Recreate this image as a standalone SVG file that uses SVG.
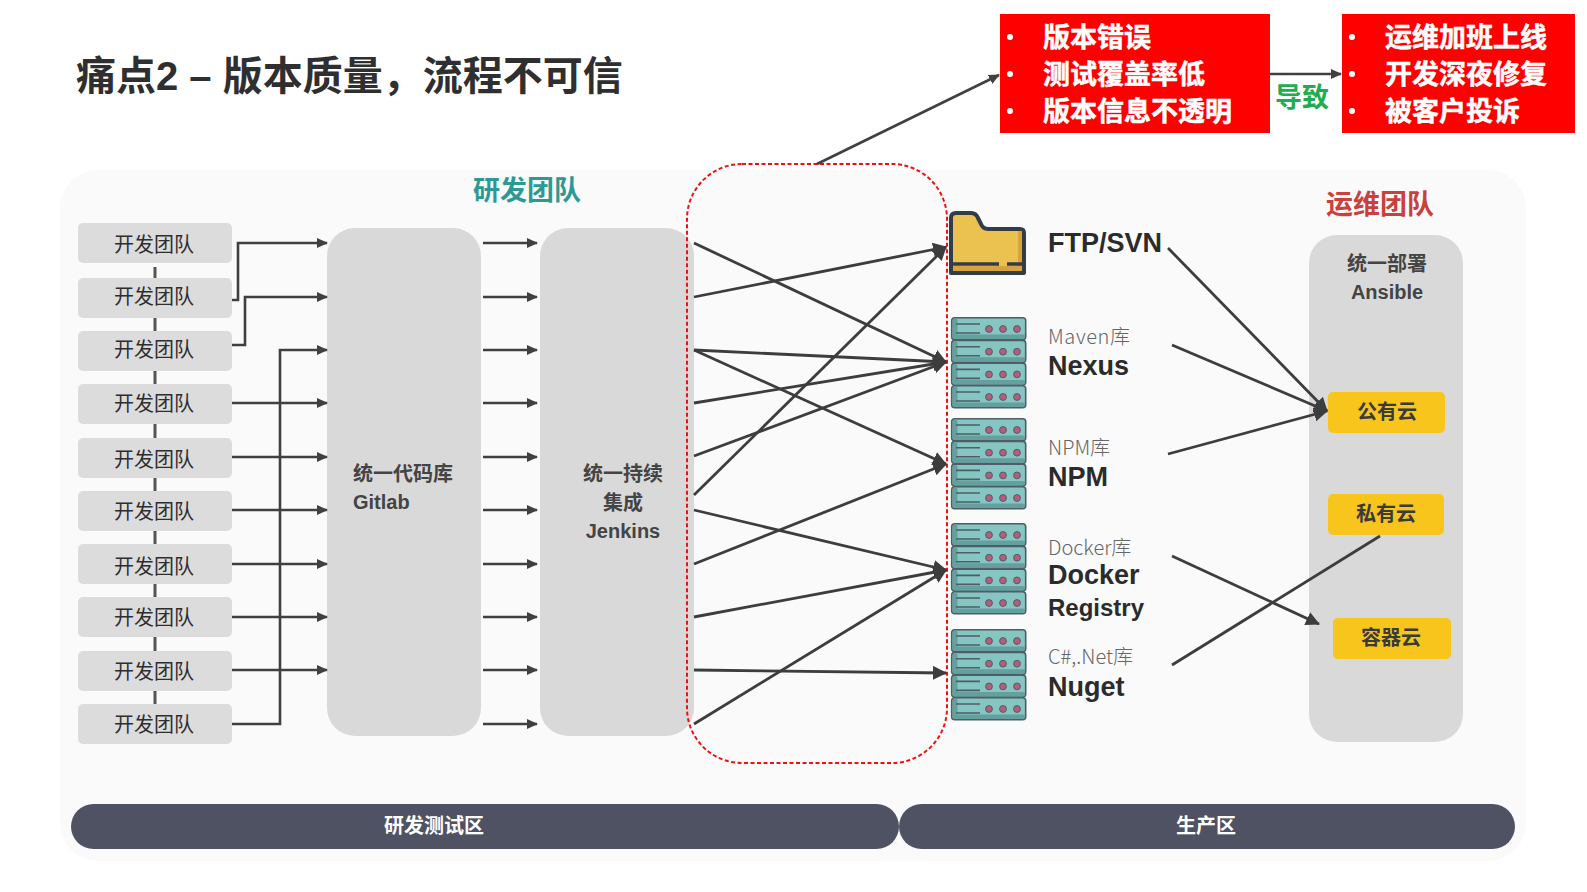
<svg xmlns="http://www.w3.org/2000/svg" width="1587" height="892" viewBox="0 0 1587 892">
<style>
text{font-family:"Noto Sans CJK SC","Liberation Sans",sans-serif;fill:#333}
.latin{font-family:"Liberation Sans","Noto Sans CJK SC",sans-serif}
.dev{fill:#dcdcdc}
.panel{fill:#d9d9d9}
.t20{font-size:20px;text-anchor:middle;fill:#2e2e2e}
.t18b{font-size:20px;font-weight:700;fill:#444}
.cloud{fill:#f8c51d}
.cl{font-size:20px;font-weight:700;fill:#3a3a3a;text-anchor:middle}
.red{fill:#fe0000}
.rt{font-size:27px;font-weight:700;fill:#fff}
.bul{fill:#fff}
.big{font-size:27px;font-weight:700;fill:#2b2b2b}
.small{font-size:20px;fill:#666;font-weight:300}
.bar{fill:#4f5263}
.bt{font-size:20px;font-weight:700;fill:#fff;text-anchor:middle}
.c{fill:none;stroke:#404040;stroke-width:2.6}
.a{marker-end:url(#ar)}
.x{fill:none;stroke:#3d3d3d;stroke-width:2.8}
.xa{marker-end:url(#arb)}
</style>
<defs>
<marker id="ar" markerUnits="userSpaceOnUse" markerWidth="12" markerHeight="12" refX="10" refY="5" orient="auto"><path d="M0 0L11 5L0 10Z" fill="#404040"/></marker>
<marker id="arb" markerUnits="userSpaceOnUse" markerWidth="16" markerHeight="16" refX="13" refY="7" orient="auto"><path d="M0 0L14 7L0 14Z" fill="#3d3d3d"/></marker>
<g id="slab">
<rect x="0.7" y="0.7" width="74" height="22" rx="3" fill="#85c6c2" stroke="#4f5d66" stroke-width="1.6"/>
<rect x="1.5" y="17.5" width="72.5" height="4.5" rx="2" fill="#64a09d"/>
<rect x="1.5" y="1.5" width="5" height="20" rx="2" fill="#64a09d"/>
<path d="M5 7H29M5 16H29" stroke="#4f5d66" stroke-width="1.6"/>
<g fill="#b75c7a" stroke="#4f5d66"><circle cx="38" cy="12" r="3.4"/><circle cx="52" cy="12" r="3.4"/><circle cx="66" cy="12" r="3.4"/></g>
</g>
<g id="server"><use href="#slab" y="0"/><use href="#slab" y="22.7"/><use href="#slab" y="45.4"/><use href="#slab" y="68"/></g>
</defs>
<rect width="1587" height="892" fill="#fff"/>
<rect x="60" y="170" width="1466" height="691" rx="38" fill="#fafafa"/>
<text class="latin" x="76" y="90" style="font-size:40px;font-weight:700;fill:#2f2f2f">痛点2 – 版本质量，流程不可信</text>
<text x="527" y="200" text-anchor="middle" style="font-size:27px;font-weight:700;fill:#2c9a94">研发团队</text>
<text x="1380" y="214" text-anchor="middle" style="font-size:27px;font-weight:700;fill:#c8413c">运维团队</text>

<path d="M155 267V704" stroke="#555" stroke-width="3" fill="none"/>
<g id="dev-teams">
<g id="dev1"><rect class="dev" x="78" y="223" width="154" height="40" rx="5"/><text class="t20" x="154" y="252">开发团队</text></g>
<g id="dev2"><rect class="dev" x="78" y="278" width="154" height="40" rx="5"/><text class="t20" x="154" y="304">开发团队</text></g>
<g id="dev3"><rect class="dev" x="78" y="331" width="154" height="40" rx="5"/><text class="t20" x="154" y="357">开发团队</text></g>
<g id="dev4"><rect class="dev" x="78" y="384" width="154" height="40" rx="5"/><text class="t20" x="154" y="411">开发团队</text></g>
<g id="dev5"><rect class="dev" x="78" y="438" width="154" height="40" rx="5"/><text class="t20" x="154" y="467">开发团队</text></g>
<g id="dev6"><rect class="dev" x="78" y="491" width="154" height="40" rx="5"/><text class="t20" x="154" y="519">开发团队</text></g>
<g id="dev7"><rect class="dev" x="78" y="544" width="154" height="40" rx="5"/><text class="t20" x="154" y="574">开发团队</text></g>
<g id="dev8"><rect class="dev" x="78" y="597" width="154" height="40" rx="5"/><text class="t20" x="154" y="625">开发团队</text></g>
<g id="dev9"><rect class="dev" x="78" y="651" width="154" height="40" rx="5"/><text class="t20" x="154" y="679">开发团队</text></g>
<g id="dev10"><rect class="dev" x="78" y="704" width="154" height="40" rx="5"/><text class="t20" x="154" y="732">开发团队</text></g>
</g>
<g id="gitlab"><rect class="panel" x="327" y="228" width="154" height="508" rx="28"/>
<text class="t18b" x="353" y="481">统一代码库</text><text class="t18b latin" x="353" y="509">Gitlab</text></g>
<g id="jenkins"><rect class="panel" x="540" y="228" width="154" height="508" rx="28"/>
<g text-anchor="middle"><text class="t18b" x="623" y="481">统一持续</text><text class="t18b" x="623" y="510">集成</text><text class="t18b latin" x="623" y="538">Jenkins</text></g></g>
<g id="deploy"><rect class="panel" x="1309" y="235" width="154" height="507" rx="28"/>
<g text-anchor="middle"><text class="t18b" x="1387" y="271">统一部署</text><text class="t18b latin" x="1387" y="299">Ansible</text></g></g>
<g id="cloud-public"><rect class="cloud" x="1328" y="392" width="117" height="41" rx="5"/><text class="cl" x="1387" y="419">公有云</text></g>
<g id="cloud-private"><rect class="cloud" x="1328" y="494" width="116" height="41" rx="5"/><text class="cl" x="1386" y="521">私有云</text></g>
<g id="cloud-container"><rect class="cloud" x="1333" y="618" width="118" height="41" rx="5"/><text class="cl" x="1391" y="645">容器云</text></g>

<g id="ftp">
<path d="M951 273V218Q951 213 956 213H971Q976 213 978 218L981 224Q983 229 988 229H1020Q1024 229 1024 233V273Z" fill="#ebc24f" stroke="#333d4a" stroke-width="4" stroke-linejoin="round"/>
<path d="M1018 231H1022V271H1018Z" fill="#d9a33a"/>
<path d="M953 266H1022V271H953Z" fill="#d9a33a"/>
<path d="M951 264H999M1007 264H1024" stroke="#333d4a" stroke-width="3.4"/>
<text class="latin big" x="1048" y="252">FTP/SVN</text></g>
<g id="nexus"><use href="#server" x="951" y="317"/><text class="small" x="1048" y="344" style="letter-spacing:.6px">Maven库</text><text class="latin big" x="1048" y="375">Nexus</text></g>
<g id="npm"><use href="#server" x="951" y="418"/><text class="small" x="1048" y="455">NPM库</text><text class="latin big" x="1048" y="486">NPM</text></g>
<g id="docker"><use href="#server" x="951" y="523"/><text class="small" x="1048" y="555">Docker库</text><text class="latin big" x="1048" y="584">Docker</text><text class="latin big" x="1048" y="616" style="font-size:24px">Registry</text></g>
<g id="nuget"><use href="#server" x="951" y="629"/><text class="small" x="1048" y="664">C#,.Net库</text><text class="latin big" x="1048" y="696">Nuget</text></g>

<g id="zone-dev"><rect class="bar" x="71" y="804" width="828" height="45" rx="22.5"/><text class="bt" x="434" y="833">研发测试区</text></g>
<g id="zone-prod"><rect class="bar" x="899" y="804" width="616" height="45" rx="22.5"/><text class="bt" x="1206" y="833">生产区</text></g>

<g id="problem"><rect class="red" x="1000" y="14" width="270" height="119"/>
<g class="bul"><circle cx="1010" cy="37" r="3"/><circle cx="1010" cy="74" r="3"/><circle cx="1010" cy="111" r="3"/></g>
<text class="rt" x="1043" y="47" style="stroke:#fff;stroke-width:.5">版本错误</text><text class="rt" x="1043" y="84" style="stroke:#fff;stroke-width:.5">测试覆盖率低</text><text class="rt" x="1043" y="121" style="stroke:#fff;stroke-width:.5">版本信息不透明</text></g>
<g id="impact"><rect class="red" x="1342" y="14" width="233" height="119"/>
<g class="bul"><circle cx="1352" cy="37" r="3"/><circle cx="1352" cy="74" r="3"/><circle cx="1352" cy="111" r="3"/></g>
<text class="rt" x="1385" y="47" style="stroke:#fff;stroke-width:.5">运维加班上线</text><text class="rt" x="1385" y="84" style="stroke:#fff;stroke-width:.5">开发深夜修复</text><text class="rt" x="1385" y="121" style="stroke:#fff;stroke-width:.5">被客户投诉</text></g>
<text x="1302" y="107" text-anchor="middle" style="font-size:27px;font-weight:700;fill:#1fae4f">导致</text>

<g id="connectors">
<rect x="687" y="164" width="260" height="599" rx="55" fill="none" stroke="#f01010" stroke-width="2" stroke-dasharray="4 2.5"/>
<path class="c a" d="M1270 74H1341"/>
<path class="c a" d="M817 164L999 75"/>
<g>
<path class="c a" d="M232 300H238V243H327"/>
<path class="c a" d="M232 345H245V297H327"/>
<path class="c a" d="M232 724H280V350H327"/>
<path class="c a" d="M232 403H327"/>
<path class="c a" d="M232 457H327"/>
<path class="c a" d="M232 510H327"/>
<path class="c a" d="M232 564H327"/>
<path class="c a" d="M232 617H327"/>
<path class="c a" d="M232 670H327"/>
</g>
<g>
<path class="c a" d="M483 243H537"/><path class="c a" d="M483 297H537"/><path class="c a" d="M483 350H537"/><path class="c a" d="M483 403H537"/><path class="c a" d="M483 457H537"/><path class="c a" d="M483 510H537"/><path class="c a" d="M483 564H537"/><path class="c a" d="M483 617H537"/><path class="c a" d="M483 670H537"/><path class="c a" d="M483 724H537"/>
</g>
<g>
<path class="x xa" d="M694 243L946 362"/>
<path class="x xa" d="M694 297L946 247"/>
<path class="x xa" d="M694 350L946 362"/>
<path class="x xa" d="M694 350L946 464"/>
<path class="x xa" d="M694 403L946 362"/>
<path class="x xa" d="M694 456L946 362"/>
<path class="x xa" d="M694 495L946 247"/>
<path class="x xa" d="M694 510L946 570"/>
<path class="x xa" d="M694 564L946 464"/>
<path class="x xa" d="M694 617L946 570"/>
<path class="x xa" d="M694 670L946 673"/>
<path class="x xa" d="M694 724L946 570"/>
</g>
<g>
<path class="x xa" d="M1168 248L1327 411"/>
<path class="x xa" d="M1172 345L1327 411"/>
<path class="x xa" d="M1168 454L1327 411"/>
<path class="x xa" d="M1172 556L1319 624"/>
<path class="x" d="M1172 665L1380 536"/>
</g>
</g>
</svg>
